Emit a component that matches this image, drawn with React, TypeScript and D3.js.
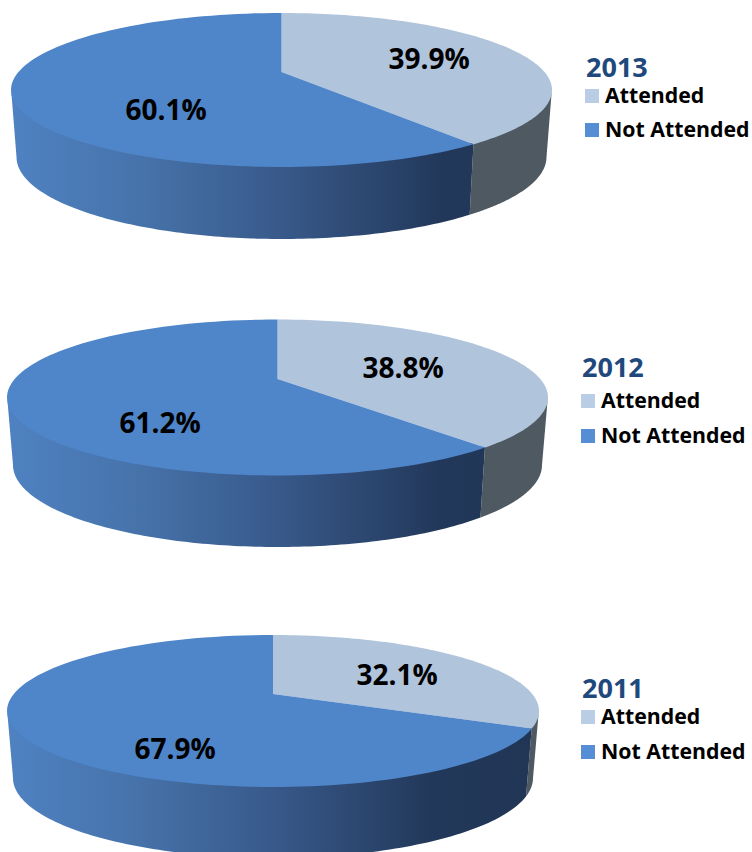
import { useMemo } from 'react';
import * as d3 from 'd3';

const years = ['2013', '2012', '2011'];
const attended = [39.9, 38.8, 32.1];
const notAttended = [60.1, 61.2, 67.9];
const categories = ['Attended', 'Not Attended'];

const FONT = '"Open Sans", sans-serif';

// geometry of each drawn pie, same order as years
const layouts = [
    {
        cx: 281.5, cy: 90, rx: 270.5, ry: 77, apex: 72, rxB: 265, cyB: 157, ryB: 82,
        labels: [[429, 59], [166, 110]], legendX: 585, titleY: 77, swatchY: [89, 123],
    },
    {
        cx: 277.5, cy: 397.5, rx: 270.5, ry: 78, apex: 379, rxB: 264.5, cyB: 465, ryB: 82,
        labels: [[403, 368], [160, 423]], legendX: 581, titleY: 377, swatchY: [394, 429],
    },
    {
        cx: 273, cy: 711, rx: 266, ry: 76, apex: 694, rxB: 260, cyB: 778, ryB: 80,
        labels: [[397, 675], [175, 749]], legendX: 581, titleY: 698, swatchY: [710, 745],
    },
];

const faceColors = ['#b0c4dc', '#4f85c9'];
const swatchColors = ['#b9cde5', '#558ed5'];

const Pie3D = ({ index }: { index: number }) => {
    const l = layouts[index];
    const d = (l.cy - l.apex) / l.ry;

    const slices = useMemo(
        () => d3.pie<number>().sort(null)([attended[index], notAttended[index]]),
        [index]
    );

    // pie angle (clockwise from top) -> parameter on the perspective ellipse
    const toT = (a: number) => {
        const u = Math.sin(a);
        const v = Math.cos(a);
        const w = 1 + d * v;
        const t = Math.atan2(-(v + d) / w, (u * Math.sqrt(1 - d * d)) / w);
        return t;
    };

    const tSplit = toT(slices[0].endAngle);
    const line = d3.line<[number, number]>().curve(d3.curveLinear);
    const top = (t: number): [number, number] => [l.cx + l.rx * Math.cos(t), l.cy + l.ry * Math.sin(t)];
    const bottom = (t: number): [number, number] => [l.cx + l.rxB * Math.cos(t), l.cyB + l.ryB * Math.sin(t)];
    const sweep = (t0: number, t1: number) => d3.range(0, 121).map(i => t0 + ((t1 - t0) * i) / 120);
    // side walls start a little under the face so no seam shows
    const under = (t: number): [number, number] => {
        const p = top(t);
        return [p[0], p[1] - 2];
    };

    const attendedFace = line([[l.cx, l.apex], ...sweep(-Math.PI / 2, tSplit).map(top)]) + 'Z';
    const otherFace = line([[l.cx, l.apex], ...sweep(tSplit, (3 * Math.PI) / 2).map(top)]) + 'Z';
    const side = (t0: number, t1: number) =>
        line([...sweep(t0, t1).map(under), ...sweep(t1, t0).map(bottom)]) + 'Z';

    return (
        <g>
            <defs>
                <linearGradient id={`side-${index}`} gradientUnits="userSpaceOnUse" x1={l.cx - l.rx} x2={l.cx + l.rx} y1={0} y2={0}>
                    <stop offset="0" stopColor="#4f82c2" />
                    <stop offset="0.25" stopColor="#4672a9" />
                    <stop offset="0.5" stopColor="#38598a" />
                    <stop offset="0.8" stopColor="#22385a" />
                    <stop offset="1" stopColor="#213655" />
                </linearGradient>
            </defs>
            <path d={side(0, tSplit)} fill="#4f5961" />
            <path d={side(tSplit, Math.PI)} fill={`url(#side-${index})`} />
            <path d={attendedFace} fill={faceColors[0]} />
            <path d={otherFace} fill={faceColors[1]} />
            {[attended[index], notAttended[index]].map((v, i) => (
                <text
                    key={i}
                    x={l.labels[i][0]}
                    y={l.labels[i][1] + 10}
                    textAnchor="middle"
                    fontFamily={FONT}
                    fontWeight="700"
                    fontSize={28}
                    fill="#000"
                >
                    {v.toFixed(1)}%
                </text>
            ))}
            <text x={l.legendX + 1} y={l.titleY} fontFamily={FONT} fontWeight="700" fontSize={27} fill="#1f497d">
                {years[index]}
            </text>
            {categories.map((c, i) => (
                <g key={c}>
                    <rect x={l.legendX} y={l.swatchY[i]} width={14} height={14} fill={swatchColors[i]} />
                    <text x={l.legendX + 20} y={l.swatchY[i] + 14} fontFamily={FONT} fontWeight="700" fontSize={21.3} fill="#000">
                        {c}
                    </text>
                </g>
            ))}
        </g>
    );
};

const App = () => (
    <svg width={752} height={852} style={{ position: 'absolute', left: 0, top: 0, background: '#fff' }}>
        {years.map((y, i) => (
            <Pie3D key={y} index={i} />
        ))}
    </svg>
);

export default App;
